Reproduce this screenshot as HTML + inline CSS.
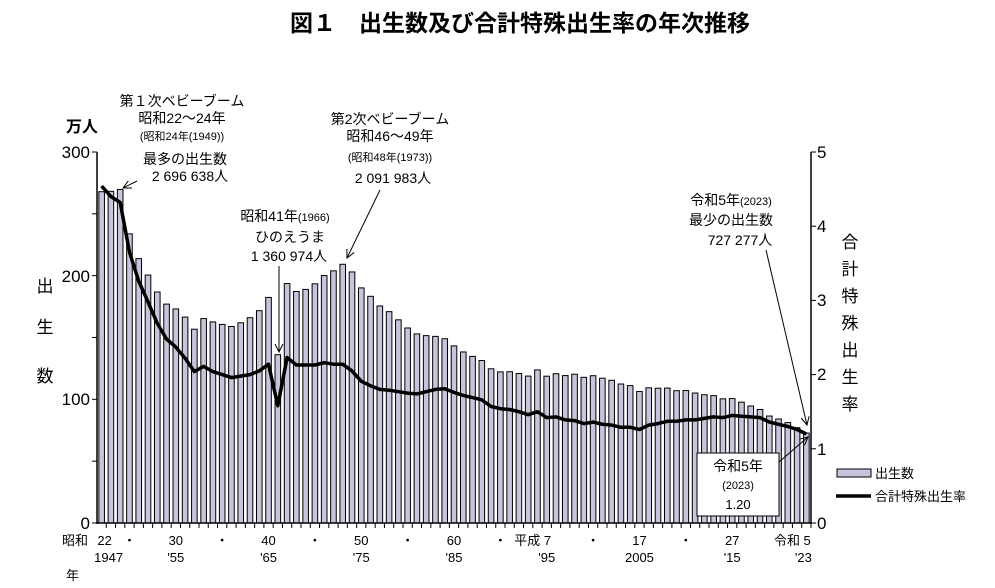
<!DOCTYPE html>
<html><head><meta charset="utf-8"><style>
body{margin:0;background:#fff;}
svg{display:block;font-family:"Liberation Sans","Noto Sans CJK JP",sans-serif;}
</style></head><body>
<svg id="s" width="995" height="588" xmlns="http://www.w3.org/2000/svg">
<defs><marker id="ah" markerWidth="10" markerHeight="10" refX="9" refY="5" orient="auto" markerUnits="userSpaceOnUse"><path d="M1,1 L9,5 L1,9" fill="none" stroke="#000" stroke-width="1"/></marker></defs>
<text x="520" y="31" font-size="23" font-weight="bold" text-anchor="middle">図１　出生数及び合計特殊出生率の年次推移</text>
<g id="bars"></g>
<g id="axes" stroke="#000" stroke-width="1.5"><line x1="97" y1="152" x2="97" y2="524"/><line x1="811" y1="152" x2="811" y2="524"/><line x1="97" y1="523" x2="811" y2="523"/></g>
<g id="ticks" stroke="#000" stroke-width="1"></g>
<polyline id="tfr" fill="none" stroke="#000" stroke-width="3.5" stroke-linejoin="round"/>
<g font-size="17">
<text x="90" y="158" text-anchor="end">300</text>
<text x="90" y="282" text-anchor="end">200</text>
<text x="90" y="405" text-anchor="end">100</text>
<text x="90" y="529" text-anchor="end">0</text>
<text x="817" y="158">5</text><text x="817" y="232">4</text><text x="817" y="306">3</text><text x="817" y="380">2</text><text x="817" y="455">1</text><text x="817" y="529">0</text>
</g>
<text x="66" y="132" font-size="16" font-weight="bold">万人</text>
<g font-size="17" text-anchor="middle"><text x="45" y="292">出</text><text x="45" y="333">生</text><text x="45" y="382">数</text></g>
<g font-size="17" text-anchor="middle"><text x="850" y="248">合</text><text x="850" y="275">計</text><text x="850" y="302">特</text><text x="850" y="329">殊</text><text x="850" y="356">出</text><text x="850" y="383">生</text><text x="850" y="410">率</text></g>
<g font-size="14">
<text x="182" y="106" text-anchor="middle">第１次ベビーブーム</text>
<text x="182" y="123" text-anchor="middle">昭和22～24年</text>
<text x="182" y="140" text-anchor="middle" font-size="11">(昭和24年(1949))</text>
<text x="185" y="164" text-anchor="middle">最多の出生数</text>
<text x="190" y="181" text-anchor="middle">2 696 638人</text>
<text x="390" y="124" text-anchor="middle">第2次ベビーブーム</text>
<text x="390" y="141" text-anchor="middle">昭和46～49年</text>
<text x="390" y="161" text-anchor="middle" font-size="11">(昭和48年(1973))</text>
<text x="393" y="183" text-anchor="middle">2 091 983人</text>
<text x="285" y="221" text-anchor="middle">昭和41年<tspan font-size="11">(1966)</tspan></text>
<text x="290" y="242" text-anchor="middle">ひのえうま</text>
<text x="289" y="261" text-anchor="middle">1 360 974人</text>
<text x="731" y="205" text-anchor="middle">令和5年<tspan font-size="11">(2023)</tspan></text>
<text x="731" y="225" text-anchor="middle">最少の出生数</text>
<text x="740" y="245" text-anchor="middle">727 277人</text>
</g>
<g stroke="#000" stroke-width="1" fill="none">
<line x1="137" y1="181" x2="123" y2="188" marker-end="url(#ah)"/>
<line x1="380" y1="190" x2="347" y2="258" marker-end="url(#ah)"/>
<line x1="279" y1="266" x2="279" y2="352" marker-end="url(#ah)"/>
<line x1="766" y1="250" x2="807" y2="425" marker-end="url(#ah)"/>
<line x1="779" y1="462" x2="808" y2="437" marker-end="url(#ah)"/>
</g>
<rect x="697" y="453" width="82" height="63" fill="#fff" stroke="#000" stroke-width="1"/>
<g text-anchor="middle"><text x="738" y="471" font-size="14">令和5年</text><text x="738" y="489" font-size="11">(2023)</text><text x="738" y="509" font-size="13">1.20</text></g>
<rect x="837" y="469" width="34" height="8" fill="#c9c4dd" stroke="#000" stroke-width="1"/>
<text x="875" y="478" font-size="13">出生数</text>
<line x1="836" y1="496" x2="871" y2="496" stroke="#000" stroke-width="3.5"/>
<text x="875" y="501" font-size="13">合計特殊出生率</text>
<g font-size="13" id="xl"></g>
<text x="62" y="545" font-size="13">昭和</text>
<text x="66" y="580" font-size="13">年</text>
</svg>
<script>
var B=[267.9,268.2,269.7,233.8,213.8,200.5,186.8,177.0,173.1,166.5,156.7,165.3,162.6,160.6,158.9,161.9,166.0,171.7,182.4,136.1,193.6,187.2,188.9,193.4,200.1,203.9,209.2,203.0,190.1,183.3,175.5,170.9,164.3,157.7,152.9,151.5,150.9,149.0,143.2,138.3,134.7,131.4,124.7,122.2,122.3,120.9,118.8,123.8,118.7,120.7,119.2,120.3,117.8,119.1,117.1,115.4,112.4,111.1,106.3,109.3,109.0,109.1,107.0,107.1,105.1,103.7,103.0,100.4,100.6,97.7,94.6,91.8,86.5,84.1,81.2,77.1,72.7];
var T=[4.54,4.40,4.32,3.65,3.26,2.98,2.69,2.48,2.37,2.22,2.04,2.11,2.04,2.00,1.96,1.98,2.00,2.05,2.14,1.58,2.23,2.13,2.13,2.13,2.16,2.14,2.14,2.05,1.91,1.85,1.80,1.79,1.77,1.75,1.74,1.77,1.80,1.81,1.76,1.72,1.69,1.66,1.57,1.54,1.53,1.50,1.46,1.50,1.42,1.43,1.39,1.38,1.34,1.36,1.33,1.32,1.29,1.29,1.26,1.32,1.34,1.37,1.37,1.39,1.39,1.41,1.43,1.42,1.45,1.44,1.43,1.42,1.36,1.33,1.30,1.26,1.20];
var ns="http://www.w3.org/2000/svg",st=714/77,bars=document.getElementById("bars"),tk=document.getElementById("ticks"),xl=document.getElementById("xl"),pts=[];
function cx(i){return 97+st*(i+0.5);}
for(var i=0;i<77;i++){var y=523-B[i]*371/300,r=document.createElementNS(ns,"rect");
r.setAttribute("x",cx(i)-2.8);r.setAttribute("y",y);r.setAttribute("width",5.6);r.setAttribute("height",523-y);
r.setAttribute("fill","#c9c4dd");r.setAttribute("stroke","#000");r.setAttribute("stroke-width","1");bars.appendChild(r);
pts.push(cx(i).toFixed(1)+","+(523-T[i]*371/5).toFixed(1));
var l=document.createElementNS(ns,"line");var x=97+st*(i+1);l.setAttribute("x1",x);l.setAttribute("x2",x);l.setAttribute("y1",523);l.setAttribute("y2",528);tk.appendChild(l);}
document.getElementById("tfr").setAttribute("points",pts.join(" "));
for(var v=0;v<=300;v+=50){var y=523-v*371/300;var l=document.createElementNS(ns,"line");l.setAttribute("x1",92);l.setAttribute("x2",97);l.setAttribute("y1",y);l.setAttribute("y2",y);tk.appendChild(l);}
for(var v=0;v<=5;v++){var y=523-v*371/5;var l=document.createElementNS(ns,"line");l.setAttribute("x1",811);l.setAttribute("x2",816);l.setAttribute("y1",y);l.setAttribute("y2",y);tk.appendChild(l);}
var L=[[0,"22","1947"],[3,"・",""],[8,"30","'55"],[13,"・",""],[18,"40","'65"],[23,"・",""],[28,"50","'75"],[33,"・",""],[38,"60","'85"],[43,"・",""],[48,"平成 7","'95"],[53,"・",""],[58,"17","2005"],[63,"・",""],[68,"27","'15"],[76,"令和 5","'23"]];
L.forEach(function(a){var x=cx(a[0]);if(a[0]==0)x+=3;if(a[0]==48)x-=14;if(a[0]==76)x-=14;
var t=document.createElementNS(ns,"text");t.setAttribute("x",x);t.setAttribute("y",545);t.setAttribute("text-anchor","middle");t.textContent=a[1];xl.appendChild(t);
if(a[2]){var t2=document.createElementNS(ns,"text");var x2=cx(a[0]);if(a[0]==0)x2+=7;if(a[0]==76)x2-=3;t2.setAttribute("x",x2);t2.setAttribute("y",562);t2.setAttribute("text-anchor","middle");t2.textContent=a[2];xl.appendChild(t2);}});
</script>
</body></html>
